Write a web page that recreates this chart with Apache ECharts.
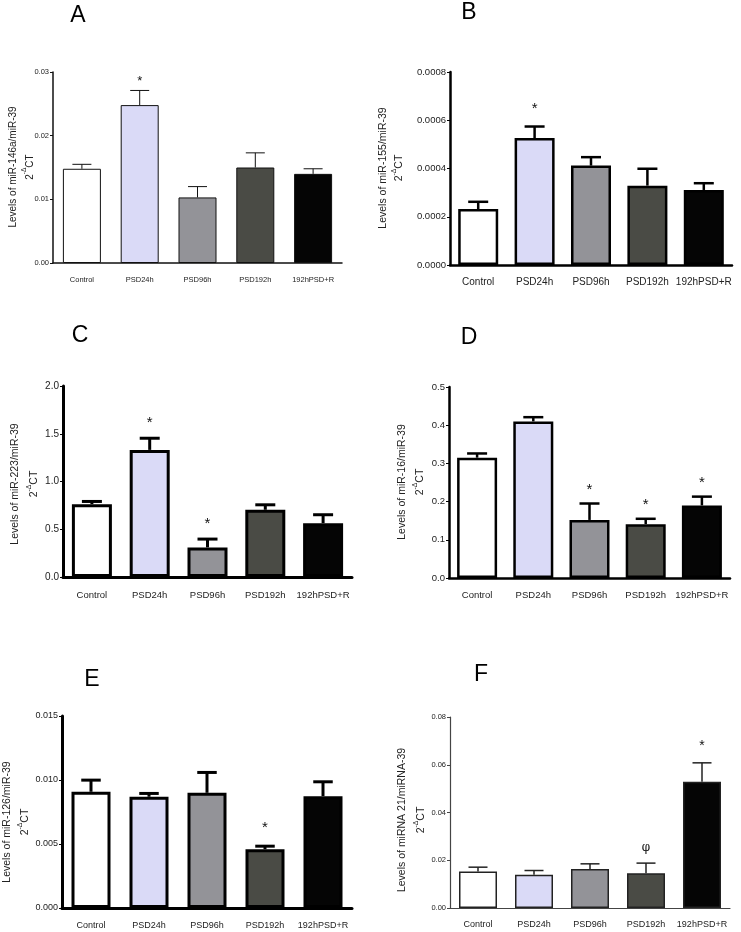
<!DOCTYPE html>
<html>
<head>
<meta charset="utf-8">
<script src="https://cdn.jsdelivr.net/npm/echarts@6/dist/echarts.min.js"></script>
<style>html,body{margin:0;padding:0;background:#fff;}#c{width:741px;height:932px;}</style>
</head>
<body>
<div id="c"></div>
<script>
// ---- data ----
const categories = ['Control', 'PSD24h', 'PSD96h', 'PSD192h', '192hPSD+R'];

const meanA = [0.0148, 0.0248, 0.0103, 0.0150, 0.0140];
const semA  = [0.0007, 0.0023, 0.0017, 0.0023, 0.0008];
const sigA  = ['', '*', '', '', ''];
const ticksA = [0, 0.03, 0.01];

const meanB = [0.000232, 0.000526, 0.000412, 0.000329, 0.000311];
const semB  = [0.000030, 0.000048, 0.000035, 0.000070, 0.000028];
const sigB  = ['', '*', '', '', ''];
const ticksB = [0, 0.0008, 0.0002];

const meanC = [0.763, 1.331, 0.310, 0.704, 0.564];
const semC  = [0.028, 0.122, 0.087, 0.052, 0.088];
const sigC  = ['', '*', '*', '', ''];
const ticksC = [0, 2.0, 0.5];

const meanD = [0.315, 0.410, 0.152, 0.141, 0.190];
const semD  = [0.011, 0.011, 0.043, 0.014, 0.023];
const sigD  = ['', '', '*', '*', '*'];
const ticksD = [0, 0.5, 0.1];

const meanE = [0.00908, 0.00869, 0.00900, 0.00459, 0.00874];
const semE  = [0.00091, 0.00026, 0.00159, 0.00024, 0.00112];
const sigE  = ['', '', '', '*', ''];
const ticksE = [0, 0.015, 0.005];

const meanF = [0.0153, 0.0139, 0.0163, 0.0146, 0.0529];
const semF  = [0.0018, 0.0018, 0.0022, 0.0042, 0.0079];
const sigF  = ['', '', '', 'φ', '*'];
const ticksF = [0, 0.08, 0.02];

const panelLetters = ['A', 'B', 'C', 'D', 'E', 'F'];
const yNames = [
  'Levels of miR-146a/miR-39',
  'Levels of miR-155/miR-39',
  'Levels of miR-223/miR-39',
  'Levels of miR-16/miR-39',
  'Levels of miR-126/miR-39',
  'Levels of miRNA 21/miRNA-39'
];

// ---- styling / layout ----
const barColors = ['#ffffff', '#dadaf7', '#939398', '#4a4b45', '#050505'];
const FONT = 'Liberation Sans, Arial, sans-serif';

const panels = [
  {mean: meanA, sem: semA, sig: sigA, ticks: ticksA, dec: 2,
   grid: {left: 53, top: 72, width: 289, height: 191}, axisW: 1.5, axisC: '#111', bw: 1, barW: 38,
   tickF: 7.5, xF: 7.5, xGap: 13, nameF: 10, n1: [13, 167], n2: [28, 167], letter: [78, 16], sigGap: 9, sigF: 13, borderC: '#111'},
  {mean: meanB, sem: semB, sig: sigB, ticks: ticksB, dec: 4,
   grid: {left: 450, top: 72, width: 282, height: 193}, axisW: 2.5, axisC: '#000', bw: 2.5, barW: 40,
   tickF: 9.5, xF: 10, xGap: 12, nameF: 10.5, n1: [383, 168], n2: [398, 168], letter: [469, 13], sigGap: 18, sigF: 15, borderC: '#000'},
  {mean: meanC, sem: semC, sig: sigC, ticks: ticksC, dec: 1,
   grid: {left: 63, top: 386, width: 289, height: 191}, axisW: 3, axisC: '#000', bw: 3, barW: 40,
   tickF: 10, xF: 9.5, xGap: 13, nameF: 10.5, n1: [15, 484], n2: [33, 484], letter: [80, 336], sigGap: 15, sigF: 15, borderC: '#000'},
  {mean: meanD, sem: semD, sig: sigD, ticks: ticksD, dec: 1,
   grid: {left: 449, top: 387, width: 281, height: 191}, axisW: 2.5, axisC: '#000', bw: 2.5, barW: 40,
   tickF: 9.5, xF: 9.5, xGap: 12, nameF: 10.5, n1: [402, 482], n2: [419, 482], letter: [469, 338], sigGap: 14, sigF: 15, borderC: '#000'},
  {mean: meanE, sem: semE, sig: sigE, ticks: ticksE, dec: 3,
   grid: {left: 62, top: 716, width: 290, height: 192}, axisW: 3, axisC: '#000', bw: 3, barW: 39,
   tickF: 9, xF: 9, xGap: 13, nameF: 10.5, n1: [7, 822], n2: [24, 822], letter: [92, 680], sigGap: 18, sigF: 15, borderC: '#000'},
  {mean: meanF, sem: semF, sig: sigF, ticks: ticksF, dec: 2,
   grid: {left: 450, top: 717, width: 280, height: 191}, axisW: 1.2, axisC: '#444', bw: 1.5, barW: 38,
   tickF: 7.5, xF: 9, xGap: 12, nameF: 10.5, n1: [402, 820], n2: [420, 820], letter: [481, 675], sigGap: 17, sigF: 14, borderC: '#222'}
];

const grids = [], xAxes = [], yAxes = [], series = [], graphics = [];

panels.forEach((p, i) => {
  grids.push(Object.assign({containLabel: false}, p.grid));
  xAxes.push({
    type: 'category', gridIndex: i, data: categories,
    axisLine: {lineStyle: {color: p.axisC, width: p.axisW}},
    axisTick: {show: false},
    axisLabel: {color: '#222', fontSize: p.xF, fontFamily: FONT, margin: p.xGap, interval: 0}
  });
  yAxes.push({
    type: 'value', gridIndex: i, min: p.ticks[0], max: p.ticks[1], interval: p.ticks[2],
    axisLine: {show: true, lineStyle: {color: p.axisC, width: p.axisW}},
    axisTick: {show: true, length: 3, lineStyle: {color: p.axisC, width: 1}},
    splitLine: {show: false},
    axisLabel: {color: '#222', fontSize: p.tickF, fontFamily: FONT, margin: 4,
      formatter: v => v.toFixed(p.dec)}
  });
  series.push({
    type: 'bar', xAxisIndex: i, yAxisIndex: i, barWidth: p.barW, z: 3,
    data: p.mean.map((m, j) => ({value: m, itemStyle: {color: barColors[j], borderColor: p.borderC, borderWidth: p.bw}})),
    silent: true
  });
  series.push({
    type: 'custom', xAxisIndex: i, yAxisIndex: i, z: 2, silent: true,
    data: p.mean.map((m, j) => [j, m, m + p.sem[j]]),
    renderItem: (params, api) => {
      const x = api.value(0);
      const base = api.coord([x, api.value(1)]);
      const top = api.coord([x, api.value(2)]);
      const cap = p.barW * 0.5;
      const st = {stroke: p.borderC, lineWidth: p.bw};
      return {type: 'group', children: [
        {type: 'line', shape: {x1: top[0], y1: base[1], x2: top[0], y2: top[1]}, style: st},
        {type: 'line', shape: {x1: top[0] - cap / 2, y1: top[1], x2: top[0] + cap / 2, y2: top[1]}, style: st}
      ]};
    }
  });
  series.push({
    type: 'custom', xAxisIndex: i, yAxisIndex: i, z: 4, silent: true,
    data: p.mean.map((m, j) => [j, m + p.sem[j], p.sig[j]]),
    renderItem: (params, api) => {
      const s = p.sig[params.dataIndex];
      if (!s) return null;
      const top = api.coord([api.value(0), api.value(1)]);
      const isPhi = s === 'φ';
      return {type: 'text', x: top[0], y: top[1] - p.sigGap + (isPhi ? 2 : 0),
        style: {text: s, fontSize: isPhi ? 12 : p.sigF, fontFamily: isPhi ? 'DejaVu Serif, serif' : FONT,
          fill: '#111', align: 'center', verticalAlign: 'middle'}};
    }
  });
  graphics.push({type: 'text', x: p.letter[0], y: p.letter[1],
    style: {text: panelLetters[i], fontSize: 23, fontFamily: FONT, fill: '#000', align: 'center', verticalAlign: 'middle'}});
  graphics.push({type: 'text', x: p.n1[0], y: p.n1[1], rotation: Math.PI / 2,
    style: {text: yNames[i], fontSize: p.nameF, fontFamily: FONT, fill: '#222', align: 'center', verticalAlign: 'middle'}});
  graphics.push({type: 'text', x: p.n2[0], y: p.n2[1], rotation: Math.PI / 2,
    style: {text: '{n|2}{s|-Δ}{n|CT}', fontFamily: FONT, fill: '#222', align: 'center', verticalAlign: 'middle',
      rich: {n: {fontSize: p.nameF, fontFamily: FONT, fill: '#222', lineHeight: 14, verticalAlign: 'bottom'},
             s: {fontSize: p.nameF * 0.65, fontFamily: FONT, fill: '#222', lineHeight: 14, verticalAlign: 'top'}}}});
});

const chart = echarts.init(document.getElementById('c'), null, {renderer: 'canvas'});
chart.setOption({
  backgroundColor: '#fff',
  animation: false,
  grid: grids,
  xAxis: xAxes,
  yAxis: yAxes,
  series: series,
  graphic: graphics
});
</script>
</body>
</html>
